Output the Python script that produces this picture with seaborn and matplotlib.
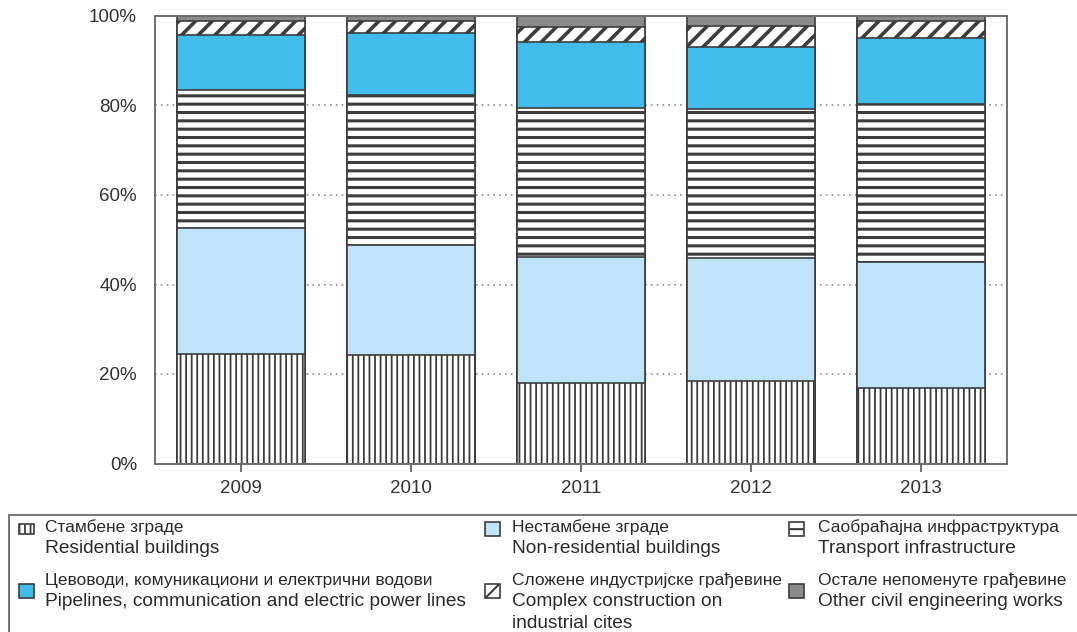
import matplotlib
matplotlib.use('Agg')
import matplotlib.pyplot as plt
from matplotlib.patches import Rectangle
import numpy as np
import seaborn as sns

# shares of construction works by type (%)
years = ['2009', '2010', '2011', '2012', '2013']
residential = [24.5, 24.2, 18.1, 18.4, 16.8]
non_residential = [28.1, 24.6, 28.0, 27.5, 28.2]
transport = [30.9, 33.5, 33.3, 33.3, 35.3]
pipelines = [12.3, 13.8, 14.7, 13.8, 14.8]
complex_industrial = [3.1, 2.8, 3.5, 4.8, 3.8]
other_works = [1.1, 1.1, 2.4, 2.2, 1.1]

labels_sr = [
	'Стамбене зграде',
	'Нестамбене зграде',
	'Саобраћајна инфраструктура',
	'Цевоводи, комуникациони и електрични водови',
	'Сложене индустријске грађевине',
	'Остале непоменуте грађевине',
]
labels_en = [
	'Residential buildings',
	'Non-residential buildings',
	'Transport infrastructure',
	'Pipelines, communication and electric power lines',
	'Complex construction on\nindustrial cites',
	'Other civil engineering works',
]
ytick_values = [0, 20, 40, 60, 80, 100]
ytick_labels = ['0%', '20%', '40%', '60%', '80%', '100%']

series = [residential, non_residential, transport, pipelines, complex_industrial, other_works]

# style per series: facecolor, hatch, hatch linewidth
styles = [
	('white', '|||', 1.3),
	('#bfe3f8', '', 1.0),
	('white', '--', 2.2),
	('#41bdec', '', 1.0),
	('white', '//', 2.6),
	('#8a8a8a', '', 1.0),
]
edge = '#3c3c3c'
W, H = 1077, 632

sns.set_style('white')
plt.rcParams['font.family'] = ['Liberation Sans', 'DejaVu Sans']
plt.rcParams['font.size'] = 13

fig = plt.figure(figsize=(W / 100, H / 100), dpi=100)
ax = fig.add_axes([155 / W, (H - 463.5) / H, (1007 - 155) / W, (463.5 - 16) / H])

cumulative = np.cumsum(np.array(series), axis=0)

# draw from the top layer down so each lower layer covers the one above
for i in range(len(series) - 1, -1, -1):
	face, hatch, hlw = styles[i]
	with plt.rc_context({'hatch.linewidth': hlw}):
		sns.barplot(
			x=years,
			y=cumulative[i],
			color=face,
			saturation=1,
			width=0.753,
			hatch=hatch,
			edgecolor=edge,
			linewidth=1.2,
			errorbar=None,
			ax=ax,
			zorder=2,
		)

ax.set_xlim(-0.506, 4.506)
ax.set_ylim(0, 100)
ax.set_yticks(ytick_values)
ax.set_yticklabels(ytick_labels)
ax.yaxis.grid(True, linestyle=(0, (1, 2.5)), color='#8c8c8c', linewidth=1.2)
ax.xaxis.grid(False)
ax.set_axisbelow(True)
ax.tick_params(axis='y', length=0, pad=13, labelcolor='#333333', labelsize=13.5)
ax.tick_params(axis='x', length=6, width=1.2, color='#555555', direction='out', pad=6,
	labelcolor='#333333', labelsize=13.5, bottom=True)
for s in ax.spines.values():
	s.set_color('#6e6e6e')
	s.set_linewidth(1.4)
ax.set_xlabel('')
ax.set_ylabel('')

# legend box, running off the right and bottom edges like the source
frame = Rectangle((9 / W, -0.05), 1.05, 1 - 515 / H + 0.05, transform=fig.transFigure,
	facecolor='white', edgecolor='#777777', linewidth=1.4, zorder=0)
fig.patches.append(frame)

# legend drawn by hand: two-language labels, 3 columns x 2 rows
col_handle_x = [19, 485, 789]
col_text_x = [45, 512, 818]
row_line_y = [527, 580]
row_handle_y = [529, 591]
line_gap = 21.5
text_color = '#2a2a2a'

for k in range(len(series)):
	col, row = k % 3, k // 3
	face, hatch, hlw = styles[k]
	hw, hh = 15, (10 if k == 0 else 14)
	hx, hy = col_handle_x[col], row_handle_y[row]
	with plt.rc_context({'hatch.linewidth': min(hlw, 1.5)}):
		fig.patches.append(Rectangle(
			(hx / W, 1 - (hy + hh / 2) / H), hw / W, hh / H, transform=fig.transFigure,
			facecolor=face, edgecolor=edge, hatch=hatch, linewidth=1.2, zorder=2))
	y0 = row_line_y[row]
	fig.text(col_text_x[col] / W, 1 - y0 / H, labels_sr[k], fontsize=12.5,
		color=text_color, va='center', ha='left')
	for j, line in enumerate(labels_en[k].split('\n')):
		fig.text(col_text_x[col] / W, 1 - (y0 + line_gap * (j + 1)) / H, line, fontsize=13.8,
			color=text_color, va='center', ha='left')

plt.savefig('out.png', dpi=100)
